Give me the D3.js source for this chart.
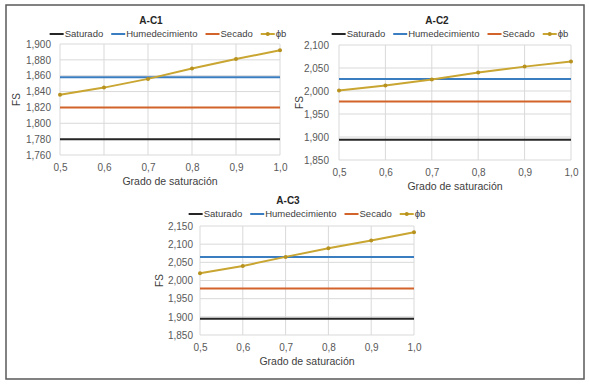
<!DOCTYPE html>
<html lang="es">
<head>
<meta charset="UTF-8">
<title>FS vs grado de saturación</title>
<script src="https://cdn.jsdelivr.net/npm/d3@7"></script>
<style>
  body { margin: 0; background: #fff; }
  svg { display: block; font-family: "Liberation Sans", Arial, sans-serif; }
  .tick text { fill: #595959; font-size: 10px; }
  .legend text { fill: #404040; font-size: 9.5px; }
</style>
</head>
<body>
<svg id="fig" width="589" height="384"></svg>
<script>
// DATA
const grado = [0.5, 0.6, 0.7, 0.8, 0.9, 1.0];
const seriesNames = ["Saturado", "Humedecimiento", "Secado", "\u03d5b"];
const seriesColors = ["#262626", "#3b7dc1", "#d2642b", "#c9a531"];

// A-C1
const ac1Saturado = 1.780;
const ac1Humedecimiento = 1.858;
const ac1Secado = 1.820;
const ac1Phib = [1.836, 1.845, 1.856, 1.869, 1.881, 1.892];
const ac1Ticks = [1.76, 1.78, 1.80, 1.82, 1.84, 1.86, 1.88, 1.90];

// A-C2
const ac2Saturado = 1.894;
const ac2Humedecimiento = 2.026;
const ac2Secado = 1.977;
const ac2Phib = [2.001, 2.012, 2.025, 2.040, 2.053, 2.064];
const ac2Ticks = [1.85, 1.90, 1.95, 2.00, 2.05, 2.10];

// A-C3
const ac3Saturado = 1.895;
const ac3Humedecimiento = 2.065;
const ac3Secado = 1.978;
const ac3Phib = [2.020, 2.040, 2.065, 2.089, 2.110, 2.133];
const ac3Ticks = [1.85, 1.90, 1.95, 2.00, 2.05, 2.10, 2.15];

const svg = d3.select("#fig");

// outer frame
svg.append("rect")
   .attr("x", 6).attr("y", 5)
   .attr("width", 578).attr("height", 374)
   .attr("fill", "#fff")
   .attr("stroke", "#595959")
   .attr("stroke-width", 1.5);

const fmtY = v => d3.format(".3f")(v).replace(".", ",");
const fmtX = v => d3.format(".1f")(v).replace(".", ",");

function drawChart(o) {
    const g = svg.append("g");
    const x = d3.scaleLinear().domain([0.5, 1.0]).range([o.left, o.right]);
    const y = d3.scaleLinear().domain(d3.extent(o.ticks)).range([o.bottom, o.top]);

    // grid
    g.append("g").selectAll("line")
        .data(o.ticks).join("line")
        .attr("x1", o.left).attr("x2", o.right)
        .attr("y1", d => y(d)).attr("y2", d => y(d))
        .attr("stroke", "#d9d9d9").attr("stroke-width", 1);
    g.append("g").selectAll("line")
        .data(grado).join("line")
        .attr("x1", d => x(d)).attr("x2", d => x(d))
        .attr("y1", o.top).attr("y2", o.bottom)
        .attr("stroke", "#d9d9d9").attr("stroke-width", 1);

    // axes (labels only)
    const ax = g.append("g")
        .attr("transform", `translate(0,${o.bottom})`)
        .call(d3.axisBottom(x).tickValues(grado).tickFormat(fmtX).tickSize(0).tickPadding(9));
    const ay = g.append("g")
        .attr("transform", `translate(${o.left},0)`)
        .call(d3.axisLeft(y).tickValues(o.ticks).tickFormat(fmtY).tickSize(0).tickPadding(o.yPad));
    ax.select(".domain").remove();
    ay.select(".domain").remove();
    ax.selectAll("text").attr("font-family", null);
    ay.selectAll("text").attr("font-family", null);

    // horizontal reference lines
    const flat = [o.sat, o.hum, o.sec];
    flat.forEach((v, i) => {
        g.append("line")
            .attr("x1", x(0.5)).attr("x2", x(1.0))
            .attr("y1", y(v)).attr("y2", y(v))
            .attr("stroke", seriesColors[i]).attr("stroke-width", 2);
    });

    // phi b
    const pts = grado.map((d, i) => [d, o.phib[i]]);
    g.append("path")
        .datum(pts)
        .attr("fill", "none")
        .attr("stroke", seriesColors[3]).attr("stroke-width", 2)
        .attr("d", d3.line().x(d => x(d[0])).y(d => y(d[1])));
    g.append("g").selectAll("circle")
        .data(pts).join("circle")
        .attr("cx", d => x(d[0])).attr("cy", d => y(d[1]))
        .attr("r", 2).attr("fill", "#b8921e");

    // titles
    g.append("text")
        .attr("x", o.titleX).attr("y", o.titleY)
        .attr("text-anchor", "middle")
        .attr("font-size", 10).attr("font-weight", "bold").attr("fill", "#262626")
        .text(o.title);
    g.append("text")
        .attr("x", (o.left + o.right) / 2).attr("y", o.bottom + 30)
        .attr("text-anchor", "middle")
        .attr("font-size", 10.5).attr("fill", "#404040")
        .text("Grado de saturación");
    g.append("text")
        .attr("transform", `translate(${o.fsX},${(o.top + o.bottom) / 2}) rotate(-90)`)
        .attr("text-anchor", "middle")
        .attr("font-size", 10).attr("fill", "#404040")
        .text("FS");

    // legend
    const lg = g.append("g").attr("class", "legend");
    let cx = 0;
    seriesNames.forEach((name, i) => {
        const it = lg.append("g").attr("transform", `translate(${cx},0)`);
        it.append("line").attr("x1", 0).attr("x2", 14).attr("y1", 0).attr("y2", 0)
            .attr("stroke", seriesColors[i]).attr("stroke-width", 2);
        if (i === 3) it.append("circle").attr("cx", 7).attr("cy", 0).attr("r", 2).attr("fill", "#b8921e");
        const t = it.append("text").attr("x", 15).attr("y", 3.3).text(name);
        cx += 15 + t.node().getComputedTextLength() + 8;
    });
    const w = cx - 8;
    lg.attr("transform", `translate(${o.legendCx - w / 2},${o.legendY})`);
}

drawChart({
    title: "A-C1", left: 60, right: 280, top: 44, bottom: 155, yPad: 9,
    ticks: ac1Ticks, sat: ac1Saturado, hum: ac1Humedecimiento, sec: ac1Secado, phib: ac1Phib,
    titleX: 151, titleY: 24, legendCx: 168, legendY: 34, fsX: 20
});
drawChart({
    title: "A-C2", left: 339, right: 571, top: 45, bottom: 160, yPad: 10,
    ticks: ac2Ticks, sat: ac2Saturado, hum: ac2Humedecimiento, sec: ac2Secado, phib: ac2Phib,
    titleX: 437, titleY: 24, legendCx: 450, legendY: 34, fsX: 303
});
drawChart({
    title: "A-C3", left: 200, right: 414, top: 226, bottom: 335, yPad: 7,
    ticks: ac3Ticks, sat: ac3Saturado, hum: ac3Humedecimiento, sec: ac3Secado, phib: ac3Phib,
    titleX: 288, titleY: 204, legendCx: 307, legendY: 214, fsX: 163
});
</script>
</body>
</html>
